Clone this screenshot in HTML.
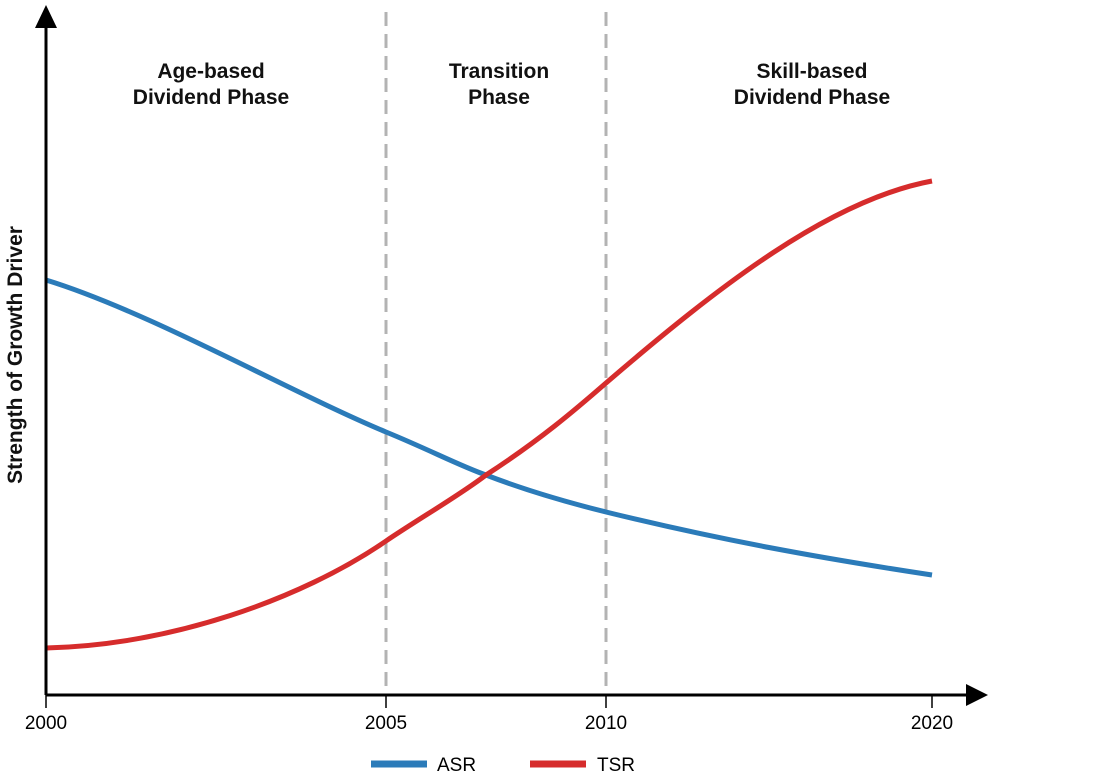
<!DOCTYPE html>
<html><head><meta charset="utf-8"><style>body{margin:0;background:#fff}svg{display:block}text{font-family:"Liberation Sans",Arial,sans-serif}</style></head>
<body>
<svg width="1095" height="778" viewBox="0 0 1095 778">
<line x1="386" y1="12" x2="386" y2="695" stroke="#b3b3b3" stroke-width="3" stroke-dasharray="14,8"/>
<line x1="606" y1="12" x2="606" y2="695" stroke="#b3b3b3" stroke-width="3" stroke-dasharray="14,8"/>
<path d="M46,280 C150,312 290,392 386,432 C430,450 460,466 486,475 C530,492 570,503 606,512 C720,540 820,558 932,575" fill="none" stroke="#2b7bb9" stroke-width="5"/>
<path d="M46,648 C170,645 300,600 386,541 C420,518 460,495 486,475 C540,440 575,410 606,383 C720,285 830,200 932,181" fill="none" stroke="#d62c2c" stroke-width="5"/>
<line x1="46" y1="695" x2="970" y2="695" stroke="#000" stroke-width="3"/>
<polygon points="988,695 966,684 966,706" fill="#000"/>
<line x1="46" y1="695" x2="46" y2="26" stroke="#000" stroke-width="3"/>
<polygon points="46,5 35,28 57,28" fill="#000"/>
<g stroke="#000" stroke-width="1.5"><line x1="46" y1="695" x2="46" y2="708"/><line x1="386" y1="695" x2="386" y2="708"/><line x1="606" y1="695" x2="606" y2="708"/><line x1="932" y1="695" x2="932" y2="708"/></g>
<g font-size="19" text-anchor="middle" fill="#000"><text x="46" y="729">2000</text><text x="386" y="729">2005</text><text x="606" y="729">2010</text><text x="932" y="729">2020</text></g>
<g font-size="21" font-weight="bold" text-anchor="middle" fill="#111">
<text x="211" y="78">Age-based</text><text x="211" y="104">Dividend Phase</text>
<text x="499" y="78">Transition</text><text x="499" y="104">Phase</text>
<text x="812" y="78">Skill-based</text><text x="812" y="104">Dividend Phase</text>
<text transform="translate(22,355) rotate(-90)">Strength of Growth Driver</text>
</g>
<line x1="371" y1="764" x2="427" y2="764" stroke="#2b7bb9" stroke-width="7"/>
<text x="437" y="771" font-size="19">ASR</text>
<line x1="530" y1="764" x2="586" y2="764" stroke="#d62c2c" stroke-width="7"/>
<text x="597" y="771" font-size="19">TSR</text>
</svg>
</body></html>
